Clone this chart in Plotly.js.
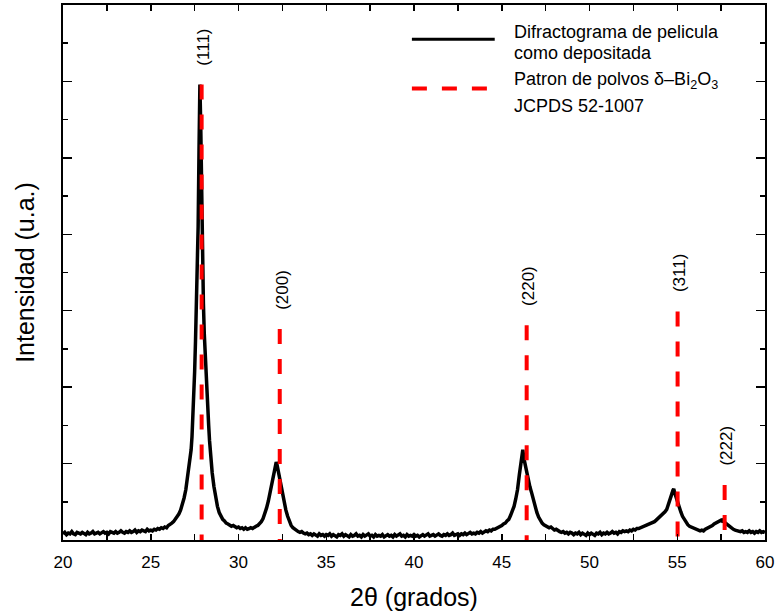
<!DOCTYPE html>
<html>
<head>
<meta charset="utf-8">
<script src="https://cdn.plot.ly/plotly-3.0.1.min.js"></script>
<style>html,body{margin:0;padding:0;background:#fff;}#chart{width:776px;height:613px;}</style>
</head>
<body>
<div id="chart"></div>
<script>
// Measured diffractogram (2θ in degrees, intensity in arbitrary units)
var twoTheta = [
20.0,20.1,20.2,20.3,20.4,20.5,20.6,20.7,20.8,20.9,
21.0,21.1,21.2,21.3,21.4,21.5,21.6,21.7,21.8,21.9,
22.0,22.1,22.2,22.3,22.4,22.5,22.6,22.7,22.8,22.9,
23.0,23.1,23.2,23.3,23.4,23.5,23.6,23.7,23.8,23.9,
24.0,24.1,24.2,24.3,24.4,24.5,24.6,24.7,24.8,24.9,
25.0,25.1,25.2,25.3,25.4,25.5,25.6,25.7,25.8,25.9,
26.0,26.1,26.2,26.3,26.4,26.5,26.6,26.7,26.8,26.9,
27.0,27.1,27.2,27.3,27.35,27.4,27.45,27.5,27.55,27.6,27.65,27.7,27.75,27.8,27.85,27.9,27.95,
28.0,28.05,28.1,28.15,28.2,28.25,28.3,28.35,28.4,28.45,28.5,28.6,28.7,28.8,28.9,
29.0,29.1,29.2,29.3,29.4,29.5,29.6,29.7,29.8,29.9,
30.0,30.1,30.2,30.3,30.4,30.5,30.6,30.7,30.8,30.9,
31.0,31.1,31.2,31.3,31.4,31.5,31.6,31.7,31.8,31.85,31.9,31.95,
32.0,32.05,32.1,32.15,32.2,32.25,32.3,32.35,32.4,32.5,32.6,32.7,32.8,32.9,
33.0,33.1,33.2,33.3,33.4,33.5,33.6,33.7,33.8,33.9,
34.0,34.1,34.2,34.3,34.4,34.5,34.6,34.7,34.8,34.9,
35.0,35.1,35.2,35.3,35.4,35.5,35.6,35.7,35.8,35.9,
36.0,36.1,36.2,36.3,36.4,36.5,36.6,36.7,36.8,36.9,
37.0,37.1,37.2,37.3,37.4,37.5,37.6,37.7,37.8,37.9,
38.0,38.1,38.2,38.3,38.4,38.5,38.6,38.7,38.8,38.9,
39.0,39.1,39.2,39.3,39.4,39.5,39.6,39.7,39.8,39.9,
40.0,40.1,40.2,40.3,40.4,40.5,40.6,40.7,40.8,40.9,
41.0,41.1,41.2,41.3,41.4,41.5,41.6,41.7,41.8,41.9,
42.0,42.1,42.2,42.3,42.4,42.5,42.6,42.7,42.8,42.9,
43.0,43.1,43.2,43.3,43.4,43.5,43.6,43.7,43.8,43.9,
44.0,44.1,44.2,44.3,44.4,44.5,44.6,44.7,44.8,44.9,
45.0,45.1,45.2,45.3,45.4,45.5,45.6,45.7,45.8,45.9,
46.0,46.05,46.1,46.15,46.2,46.25,46.3,46.35,46.4,46.45,46.5,46.6,46.7,46.8,46.9,
47.0,47.1,47.2,47.3,47.4,47.5,47.6,47.7,47.8,47.9,
48.0,48.1,48.2,48.3,48.4,48.5,48.6,48.7,48.8,48.9,
49.0,49.1,49.2,49.3,49.4,49.5,49.6,49.7,49.8,49.9,
50.0,50.1,50.2,50.3,50.4,50.5,50.6,50.7,50.8,50.9,
51.0,51.1,51.2,51.3,51.4,51.5,51.6,51.7,51.8,51.9,
52.0,52.1,52.2,52.3,52.4,52.5,52.6,52.7,52.8,52.9,
53.0,53.1,53.2,53.3,53.4,53.5,53.6,53.7,53.8,53.9,
54.0,54.1,54.2,54.3,54.4,54.5,54.6,54.65,54.7,54.75,54.8,54.85,54.9,54.95,
55.0,55.1,55.2,55.3,55.4,55.5,55.6,55.7,55.8,55.9,
56.0,56.1,56.2,56.3,56.4,56.5,56.6,56.7,56.8,56.9,
57.0,57.1,57.2,57.3,57.4,57.5,57.55,57.6,57.7,57.8,57.9,
58.0,58.1,58.2,58.3,58.4,58.5,58.6,58.7,58.8,58.9,
59.0,59.1,59.2,59.3,59.4,59.5,59.6,59.7,59.8,59.9,60.0
];
var intensity = [
.08,.10,.07,.09,.08,.11,.08,.07,.10,.09,
.08,.10,.09,.07,.10,.08,.09,.11,.08,.09,
.10,.08,.09,.11,.09,.10,.08,.11,.10,.09,
.11,.09,.10,.12,.10,.09,.11,.10,.12,.10,
.11,.13,.10,.12,.11,.13,.12,.11,.14,.12,
.13,.12,.14,.13,.15,.14,.16,.15,.17,.16,
.19,.20,.22,.24,.27,.30,.34,.39,.46,.55,
.66,.82,.98,1.18,1.35,1.6,1.88,2.2,2.6,3.0,3.4,4.1,5.1,5.96,5.4,4.5,3.5,
3.1,2.7,2.4,2.15,1.95,1.78,1.5,1.3,1.12,.98,.88,.70,.55,.44,.36,
.31,.27,.25,.22,.21,.19,.18,.19,.17,.16,
.17,.15,.16,.14,.16,.14,.15,.16,.15,.17,
.18,.19,.21,.24,.28,.34,.42,.51,.62,.68,.76,.82,
.86,.90,.95,1.02,.98,.92,.84,.77,.70,.60,.49,.39,.31,.24,
.19,.16,.14,.13,.11,.10,.11,.09,.08,.09,
.07,.08,.06,.08,.07,.05,.08,.06,.07,.05,
.07,.06,.08,.05,.07,.06,.04,.07,.06,.08,
.05,.07,.06,.04,.07,.05,.06,.08,.05,.06,
.04,.07,.05,.06,.08,.05,.06,.04,.07,.05,
.06,.05,.07,.04,.06,.07,.05,.06,.04,.07,
.05,.06,.08,.05,.06,.04,.07,.05,.06,.05,
.07,.05,.06,.04,.06,.07,.05,.06,.08,.05,
.06,.07,.05,.06,.08,.06,.05,.07,.06,.08,
.06,.07,.09,.06,.07,.08,.06,.08,.07,.09,
.07,.08,.10,.08,.09,.08,.10,.09,.11,.09,
.10,.12,.11,.13,.12,.14,.14,.15,.16,.17,
.19,.21,.22,.25,.27,.32,.38,.44,.54,.66,
.85,.96,1.05,1.10,1.18,1.08,1.02,.99,.93,.86,.80,.70,.62,.52,.44,
.36,.30,.25,.22,.20,.19,.18,.16,.17,.15,
.13,.14,.12,.11,.10,.11,.09,.10,.08,.10,
.09,.07,.09,.08,.10,.07,.09,.08,.06,.09,
.07,.09,.08,.06,.09,.08,.10,.07,.09,.08,
.10,.08,.09,.11,.09,.10,.08,.11,.10,.12,
.11,.12,.11,.13,.12,.14,.13,.15,.15,.16,
.16,.18,.18,.19,.20,.22,.23,.24,.26,.28,
.30,.32,.35,.37,.40,.46,.53,.57,.61,.65,.67,.62,.58,.55,
.52,.44,.37,.31,.27,.23,.20,.18,.17,.15,
.14,.14,.13,.12,.13,.12,.14,.15,.16,.18,
.19,.21,.22,.23,.25,.26,.25,.26,.23,.21,.19,
.17,.16,.14,.13,.12,.12,.11,.12,.10,.11,
.10,.12,.10,.11,.09,.11,.10,.12,.10,.11,.10
];

// JCPDS 52-1007 reference pattern (δ-Bi2O3)
var refPos = [27.9, 32.35, 46.42, 55.02, 57.7];
var refHeight = [5.96, 2.76, 2.81, 2.99, 0.72];
var refLabels = ['(111)', '(200)', '(220)', '(311)', '(222)'];

var xTickVals = [20, 25, 30, 35, 40, 45, 50, 55, 60];
var xTickText = ['20', '25', '30', '35', '40', '45', '50', '55', '60'];

var legendLines = ['Difractograma de pelicula', 'como depositada',
                   'Patron de polvos δ–Bi<sub>2</sub>O<sub>3</sub>', 'JCPDS 52-1007'];

var FONT = 'Arial, "Liberation Sans", sans-serif';

var refX = [], refY = [];
for (var i = 0; i < refPos.length; i++) {
  refX.push(refPos[i], refPos[i], null);
  refY.push(refHeight[i], 0, null);
}

var traces = [
  {x: twoTheta, y: intensity, type: 'scatter', mode: 'lines',
   line: {color: '#000', width: 3.5}, showlegend: false, hoverinfo: 'skip'},
  {x: refX, y: refY, type: 'scatter', mode: 'lines',
   line: {color: '#ff0000', width: 4, dash: '15px,15px'}, showlegend: false, hoverinfo: 'skip'}
];

var annotations = [];
for (var j = 0; j < refPos.length; j++) {
  annotations.push({x: refPos[j], y: refHeight[j], xref: 'x', yref: 'y',
    text: refLabels[j], showarrow: false, textangle: -90,
    xanchor: 'center', yanchor: 'bottom', yshift: 17, xshift: 2,
    font: {family: FONT, size: 17, color: '#000'}});
}
var legendY = [0.950, 0.910, 0.858, 0.811];
for (var k = 0; k < legendLines.length; k++) {
  annotations.push({x: 0.639, y: legendY[k], xref: 'paper', yref: 'paper',
    xanchor: 'left', yanchor: 'middle', align: 'left', showarrow: false,
    text: legendLines[k], font: {family: FONT, size: 18, color: '#000'}});
}

var shapes = [
  {type: 'line', xref: 'paper', yref: 'paper', x0: 0.497, x1: 0.615, y0: 0.936, y1: 0.936,
   line: {color: '#000', width: 3}},
  {type: 'line', xref: 'paper', yref: 'paper', x0: 0.497, x1: 0.615, y0: 0.844, y1: 0.844,
   line: {color: '#ff0000', width: 4, dash: '15px,15px'}}
];

var layout = {
  width: 776, height: 613,
  margin: {l: 63, r: 11, t: 5, b: 73},
  paper_bgcolor: '#fff', plot_bgcolor: '#fff',
  showlegend: false,
  font: {family: FONT, color: '#000'},
  xaxis: {
    range: [20, 60], showgrid: false, zeroline: false,
    showline: true, linecolor: '#000', linewidth: 2, mirror: 'ticks',
    ticks: 'inside', ticklen: 6, tickwidth: 1.5, tickcolor: '#000',
    tickmode: 'array', tickvals: xTickVals, ticktext: xTickText,
    tickfont: {family: FONT, size: 17, color: '#000'},
    ticklabelstandoff: 6,
    minor: {dtick: 2.5, tick0: 20, ticks: 'inside', ticklen: 6, tickwidth: 1.5, tickcolor: '#000'},
    title: {text: '2θ (grados)', font: {family: FONT, size: 25, color: '#000'}, standoff: 17}
  },
  yaxis: {
    range: [0, 7], showgrid: false, zeroline: false,
    showline: true, linecolor: '#000', linewidth: 2, mirror: 'ticks',
    ticks: 'inside', ticklen: 9, tickwidth: 1.5, tickcolor: '#000',
    dtick: 1, tick0: 0, showticklabels: false,
    minor: {dtick: 0.5, tick0: 0, ticks: 'inside', ticklen: 5, tickwidth: 1.5, tickcolor: '#000'},
    title: {text: 'Intensidad (u.a.)', font: {family: FONT, size: 25, color: '#000'}, standoff: 19}
  },
  annotations: annotations,
  shapes: shapes
};

Plotly.newPlot('chart', traces, layout, {displayModeBar: false, staticPlot: true});
</script>
</body>
</html>
